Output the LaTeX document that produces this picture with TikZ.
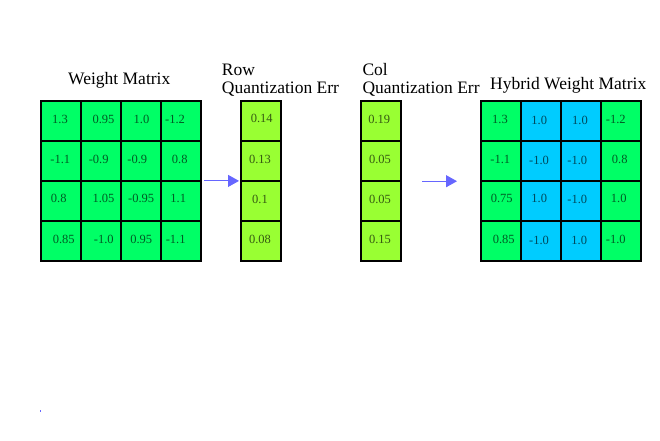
\documentclass[tikz,border=0pt]{standalone}
\usepackage{fontspec}
\setmainfont{Liberation Serif}
\usetikzlibrary{arrows.meta}
\definecolor{cgreen}{HTML}{00FF66}
\definecolor{cblue}{HTML}{00CCFF}
\definecolor{clime}{HTML}{99FF33}
\definecolor{carrow}{HTML}{6666FF}
\tikzset{
  cell/.style={draw=black, line width=1.5pt, minimum size=40pt, inner sep=0pt, anchor=north west},
  gcell/.style={cell, fill=cgreen},
  bcell/.style={cell, fill=cblue},
  lcell/.style={cell, fill=clime},
  num/.style={font=\fontsize{12.5}{13}\selectfont, text=black, text opacity=0.65, inner sep=0pt},
  title/.style={font=\fontsize{17.5}{18}\selectfont, inner sep=0pt, anchor=base west, align=left},
  arr/.style={draw=carrow, line width=1pt, -{Triangle[length=11pt,width=12pt]}},
  blk/.style={draw=none, minimum size=160pt, inner sep=0pt, anchor=north west},
  colblk/.style={draw=none, minimum width=40pt, minimum height=160pt, inner sep=0pt, anchor=north west}
}
\begin{document}
\begin{tikzpicture}[x=1pt,y=-1pt]
\useasboundingbox (0,0) rectangle (660,440);
\fill[white] (0,0) rectangle (660,440);

% titles
\node[title] (twm) at (68,84) {Weight Matrix};
\node[title] (trow) at (221.7,93.5) {Row\\Quantization Err};
\node[title] (tcol) at (362.3,93.5) {Col\\Quantization Err};
\node[title] (thy) at (490,89.3) {Hybrid Weight Matrix};

% block outlines (invisible, for connectors)
\node[blk] (wm) at (40,100) {};
\node[colblk] (re) at (240,100) {};
\node[colblk] (ce) at (360,100) {};
\node[blk] (hy) at (480,100) {};

% weight matrix cells
\foreach \r in {0,1,2,3}{
  \foreach \c in {0,1,2,3}{
    \node[gcell] (w\r\c) at (40+40*\c,100+40*\r) {};
  }
}
% row / col error cells
\foreach \r in {0,1,2,3}{
  \node[lcell] (r\r) at (240,100+40*\r) {};
  \node[lcell] (k\r) at (360,100+40*\r) {};
}
% hybrid cells
\foreach \r in {0,1,2,3}{
  \node[gcell] (h\r0) at (480,100+40*\r) {};
  \node[bcell] (h\r1) at (520,100+40*\r) {};
  \node[bcell] (h\r2) at (560,100+40*\r) {};
  \node[gcell] (h\r3) at (600,100+40*\r) {};
}

% weight matrix numbers
\node[num] (nw00) at (60,119) {1.3};
\node[num] (nw01) at (103.5,119) {0.95};
\node[num] (nw02) at (141.5,119) {1.0};
\node[num] (nw03) at (175,119) {-1.2};
\node[num] (nw10) at (60.3,159) {-1.1};
\node[num] (nw11) at (98.7,159) {-0.9};
\node[num] (nw12) at (137.3,159) {-0.9};
\node[num] (nw13) at (179.8,159) {0.8};
\node[num] (nw20) at (58.8,198.5) {0.8};
\node[num] (nw21) at (103.5,198.5) {1.05};
\node[num] (nw22) at (141.2,198.5) {-0.95};
\node[num] (nw23) at (178.3,198.5) {1.1};
\node[num] (nw30) at (63.7,239) {0.85};
\node[num] (nw31) at (103.8,239) {-1.0};
\node[num] (nw32) at (141.2,239) {0.95};
\node[num] (nw33) at (175.7,239) {-1.1};

% row err numbers
\node[num] (nr0) at (261.7,118.5) {0.14};
\node[num] (nr1) at (260,159) {0.13};
\node[num] (nr2) at (260,199) {0.1};
\node[num] (nr3) at (260,239) {0.08};

% col err numbers
\node[num] (nk0) at (379.2,119) {0.19};
\node[num] (nk1) at (380,159) {0.05};
\node[num] (nk2) at (380,199) {0.05};
\node[num] (nk3) at (380,239) {0.15};

% hybrid numbers
\node[num] (nh00) at (500,119) {1.3};
\node[num] (nh01) at (539.3,120) {1.0};
\node[num] (nh02) at (580,120) {1.0};
\node[num] (nh03) at (615.8,119) {-1.2};
\node[num] (nh10) at (500.3,159) {-1.1};
\node[num] (nh11) at (539,160.5) {-1.0};
\node[num] (nh12) at (577.3,160.5) {-1.0};
\node[num] (nh13) at (619.7,159) {0.8};
\node[num] (nh20) at (501.7,198.5) {0.75};
\node[num] (nh21) at (539.3,198.5) {1.0};
\node[num] (nh22) at (577.3,199.5) {-1.0};
\node[num] (nh23) at (618.7,198.5) {1.0};
\node[num] (nh30) at (503.7,239) {0.85};
\node[num] (nh31) at (539,240) {-1.0};
\node[num] (nh32) at (579.3,240) {1.0};
\node[num] (nh33) at (615.8,239) {-1.0};

% connectors
\draw[arr, shorten <=4pt, shorten >=1pt] ([yshift=-0.7pt]wm.east) -- ([yshift=-0.7pt]re.west);
\draw[arr, shorten <=22pt, shorten >=23pt] ([yshift=-1pt]ce.east) -- ([yshift=-1pt]hy.west);

% stray mark
\fill[carrow] (39.6,410) rectangle (40.6,412);
\end{tikzpicture}
\end{document}
